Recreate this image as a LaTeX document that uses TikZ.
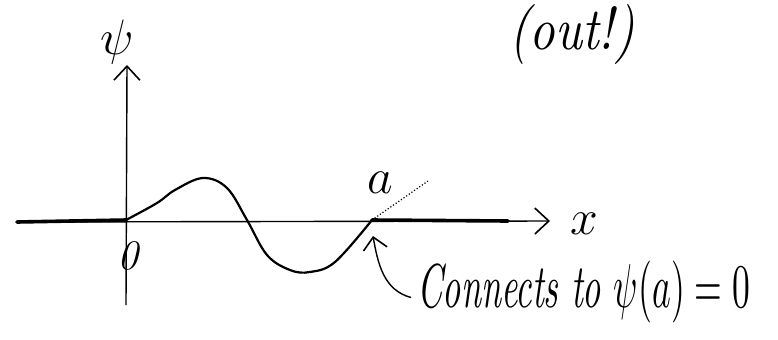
\documentclass[tikz,border=0pt]{standalone}
\usepackage{graphicx}
\usepackage{tikz}
\usetikzlibrary{arrows.meta,calc}
\tikzset{
  wv px/.style={x=0.5pt, y=-0.5pt},
  wv axis/.style={line width=0.7pt, -{Straight Barb[length=7pt, width=13pt, line width=0.8pt]}},
  wv heavy/.style={line width=1.8pt, line cap=round},
  wv curve/.style={line width=1.1pt, line join=round},
  wv tail/.style={line width=0.6pt, densely dotted},
  wv arr/.style={line width=0.7pt, -{Straight Barb[length=6pt, width=12pt, line width=0.8pt]}},
  wv lab/.style={inner sep=0pt},
}

\begin{document}
\begin{tikzpicture}[wv px]
\useasboundingbox (0,0) rectangle (778,339);
% ---- axes ----
\coordinate (o)  at (126,220);
\coordinate (xl) at (17,222);
\coordinate (xr) at (550,221);
\coordinate (yb) at (126,305);
\coordinate (yt) at (127,65);
\draw[wv axis] (xl) -- (xr);
\draw[wv axis] (yb) -- (yt);
\draw[wv heavy] (xl) -- (o);
\coordinate (pa) at (372,220);
\coordinate (pr) at (508,221);
\draw[wv heavy] (pa) -- (pr);
\node[wv lab] (psi) at (117,42) {\fontsize{26}{28}\selectfont$\psi$};
\node[wv lab] (xx)  at (584,224) {\fontsize{24}{26}\selectfont$x$};
\node[wv lab] (zero) at (128,256) {\fontsize{21}{24}\selectfont\itshape 0};
% ---- wave ----
\draw[wv curve] plot[smooth, tension=0.6] coordinates {(126,220) (157,203) (175,190) (203,178) (227,188) (247,220) (267,255) (290,270) (310,272) (335,262) (372,220)};
\draw[wv tail] (pa) -- (428,181);
\node[wv lab] (a) at (380,183) {\fontsize{23}{26}\selectfont$a$};
% ---- note ----
\node[wv lab, anchor=base west] (note) at (417,307)
  {\scalebox{1.78}[3.1]{\itshape Connects to $\psi(a)=0$}};
\coordinate (tipa) at (373,236);
\draw[wv arr] ($(note.west)+(-6,6)$) to[out=165, in=-80] (tipa);
\node[wv lab] (out) at (572,34) {\scalebox{2.5}[3]{\itshape (out!)}};
\end{tikzpicture}
\end{document}
